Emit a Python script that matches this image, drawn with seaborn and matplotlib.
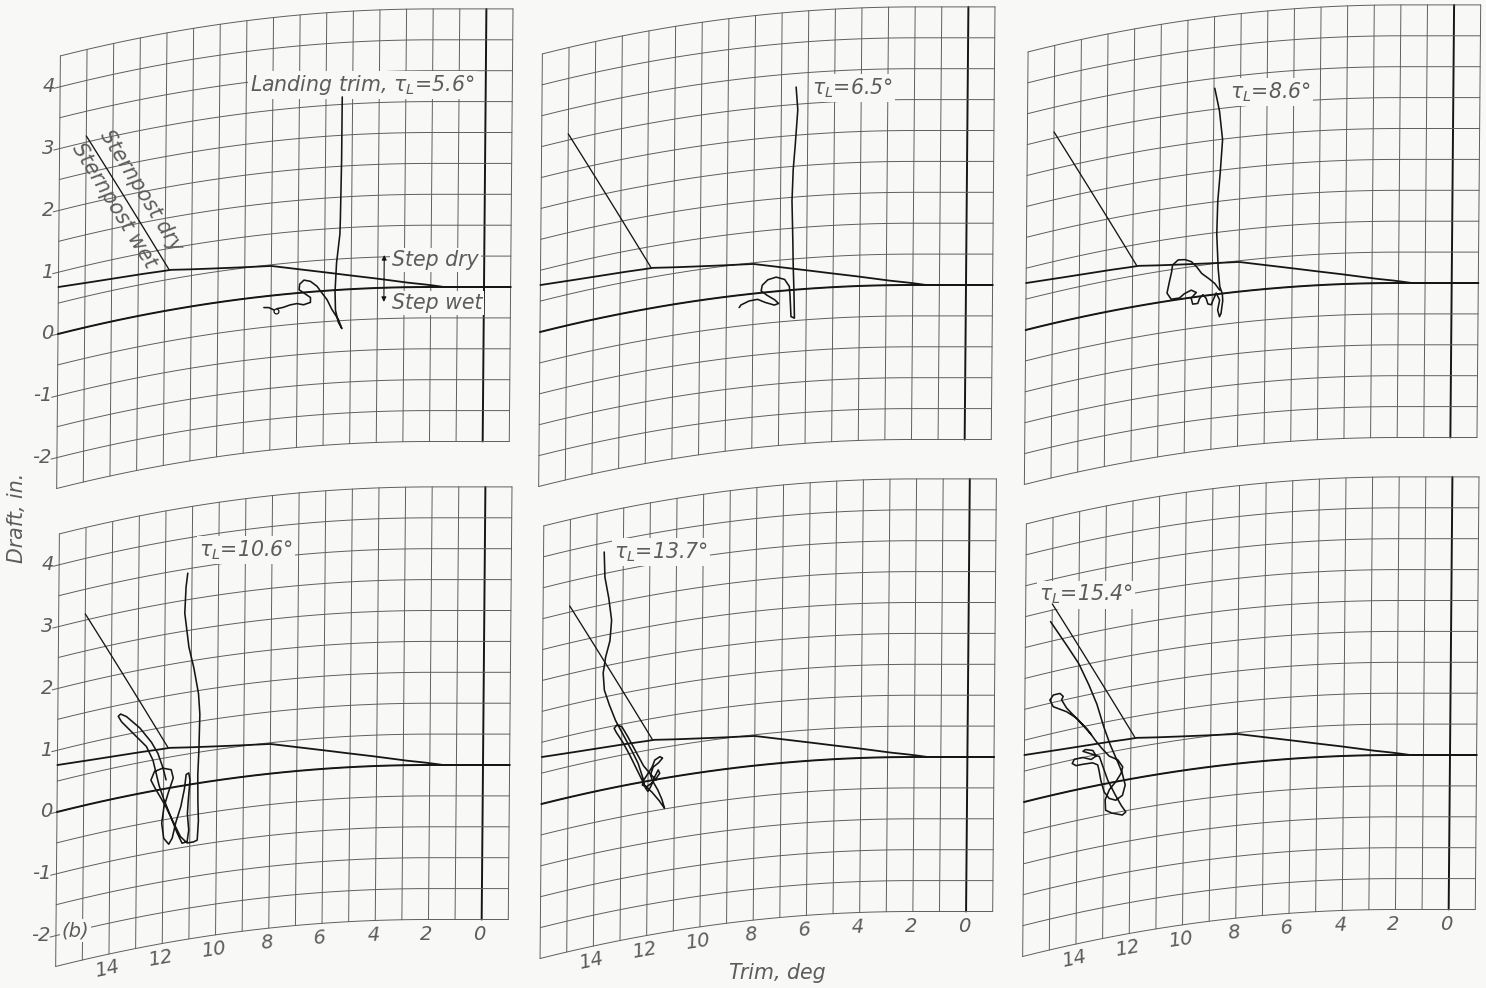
import numpy as np
import pandas as pd
import matplotlib
matplotlib.use("Agg")
import matplotlib.pyplot as plt
import matplotlib.transforms as mtransforms
from matplotlib.path import Path
import seaborn as sns

sns.set_theme(style="white")
plt.rcParams["font.family"] = ["DejaVu Sans"]
plt.rcParams["mathtext.fontset"] = "dejavusans"

# ------------------------------------------------------------------ data
# landing trim of each run, deg
landing_trim = [5.6, 6.5, 8.6, 10.6, 13.7, 15.4]

# step-dry / step-wet boundary (upper heavy line)
step_dry_trim = [16, 15, 14, 13, 12, 11.8, 11, 10, 9, 8, 7, 6, 5, 4, 3, 2, 1.5, -1]
step_dry_draft = [0.76, 0.72, 0.69, 0.67, 0.65, 0.65, 0.60, 0.55, 0.51, 0.48,
                  0.385, 0.30, 0.22, 0.15, 0.08, 0.03, 0.0, 0.0]
# step-wet boundary along zero draft (lower heavy line)
step_wet_trim = [16, -1]
step_wet_draft = [0.0, 0.0]
# sternpost dry / wet boundary
sternpost_trim = [15.0, 11.85]
sternpost_draft = [3.10, 0.66]

# trim-draft histories of the landings
trim_56 = [5.39, 5.39, 5.41, 5.43, 5.55, 5.60, 5.58, 5.47, 5.33, 5.45, 5.70, 5.89,
           6.08, 6.27, 6.52, 6.77, 6.93, 6.95, 6.77, 6.52, 6.52, 6.77, 7.02, 7.27,
           7.52, 7.77, 7.83, 8.08, 8.27]
draft_56 = [3.12, 2.26, 1.45, 0.92, 0.45, 0.00, -0.32, -0.52, -0.63, -0.49, -0.32,
            -0.15, -0.04, 0.08, 0.17, 0.20, 0.14, 0.05, -0.01, -0.09, -0.17, -0.20,
            -0.17, -0.18, -0.21, -0.22, -0.25, -0.19, -0.18]

trim_65 = [6.45, 6.38, 6.45, 6.53, 6.57, 6.53, 6.51, 6.47, 6.44, 6.57, 6.60, 6.64,
           6.82, 7.14, 7.45, 7.66, 7.70, 7.51, 7.20, 7.04, 7.20, 7.51, 7.83, 8.14,
           8.45, 8.52]
draft_65 = [3.28, 2.91, 2.42, 1.99, 1.46, 0.92, 0.48, 0.05, -0.46, -0.43, -0.16, 0.06,
            0.18, 0.23, 0.20, 0.12, 0.03, -0.04, -0.13, -0.20, -0.22, -0.17, -0.10,
            -0.11, -0.16, -0.20]

trim_86 = [8.97, 8.79, 8.66, 8.72, 8.82, 8.85, 8.79, 8.72, 8.62, 8.60, 8.66, 8.72,
           8.79, 8.72, 8.85, 8.97, 9.03, 9.16, 9.22, 9.35, 9.47, 9.54, 9.73, 9.79,
           9.60, 9.79, 10.04, 10.23, 10.54, 10.70, 10.63, 10.54, 10.50, 10.29, 10.04,
           9.79, 9.60, 9.41, 9.16, 8.91, 8.72]
draft_86 = [3.34, 2.98, 2.49, 2.06, 1.52, 0.99, 0.44, 0.12, 0.00, -0.11, -0.32, -0.37,
            -0.26, -0.10, 0.02, -0.09, -0.16, -0.14, -0.05, 0.02, -0.03, -0.11, -0.11,
            -0.01, 0.07, 0.12, 0.08, 0.02, 0.02, 0.13, 0.28, 0.44, 0.57, 0.64, 0.63,
            0.58, 0.49, 0.37, 0.28, 0.18, 0.06]

trim_106 = [11.16, 11.22, 11.26, 11.10, 10.91, 10.72, 10.66, 10.68, 10.72, 10.71,
            10.68, 10.72, 10.85, 11.10, 11.35, 11.60, 11.91, 12.29, 12.48, 12.35,
            12.04, 11.72, 11.64, 11.79, 11.98, 12.06, 11.98, 11.79, 11.66, 11.54,
            11.35, 11.22, 11.16, 11.06, 11.01, 11.06, 11.10, 11.04, 11.10, 11.29,
            11.47, 11.72, 11.98, 12.16, 12.29, 12.41, 12.66, 13.17, 13.60, 13.73,
            13.64, 13.42, 12.91, 12.48, 12.23, 12.04, 11.91]
draft_106 = [3.43, 3.22, 2.79, 2.24, 1.90, 1.46, 1.13, 0.59, 0.16, -0.27, -0.60, -0.92,
             -0.94, -0.94, -0.82, -0.59, -0.29, 0.01, 0.18, 0.31, 0.34, 0.29, 0.15,
             -0.03, -0.29, -0.55, -0.80, -0.91, -0.82, -0.59, -0.34, -0.07, 0.17, 0.19,
             0.07, -0.19, -0.46, -0.73, -0.92, -0.93, -0.76, -0.47, -0.18, 0.05, 0.28,
             0.50, 0.74, 1.00, 1.22, 1.32, 1.35, 1.29, 1.06, 0.80, 0.60, 0.36, 0.14]

trim_137 = [13.72, 13.69, 13.54, 13.42, 13.47, 13.63, 13.72, 13.67, 13.50, 13.25,
            12.94, 12.63, 12.38, 12.21, 12.13, 11.87, 11.59, 11.37, 11.46, 11.62,
            11.81, 11.91, 11.81, 11.62, 11.46, 11.56, 11.75, 11.84, 12.00, 12.16,
            12.21, 12.06, 11.87, 11.69, 11.56, 11.62, 11.75, 11.87, 12.00, 12.09,
            12.19, 12.38, 12.63, 12.94, 13.19, 13.29, 13.19, 13.00, 12.81, 12.50,
            12.19, 11.94, 11.69]
draft_137 = [3.85, 3.45, 3.11, 2.72, 2.40, 2.15, 1.89, 1.61, 1.38, 1.09, 0.82, 0.55,
             0.32, 0.09, -0.06, -0.18, -0.34, -0.49, -0.35, -0.18, -0.03, 0.09, 0.21,
             0.26, 0.33, 0.36, 0.32, 0.22, 0.12, 0.03, -0.05, -0.09, -0.05, 0.02, 0.09,
             0.15, 0.05, -0.08, -0.17, -0.11, 0.00, 0.18, 0.42, 0.69, 0.87, 0.96, 1.00,
             0.96, 0.81, 0.54, 0.27, 0.12, -0.01]

trim_154 = [15.06, 14.49, 13.99, 13.62, 13.30, 13.05, 12.80, 12.55, 12.33, 12.20,
            12.30, 12.55, 12.80, 12.99, 13.11, 13.18, 13.24, 13.43, 13.74, 14.05,
            14.20, 14.12, 13.80, 13.49, 13.30, 13.43, 13.70, 13.80, 13.18, 13.05,
            12.86, 12.61, 12.36, 12.17, 12.30, 12.68, 12.93, 12.95, 12.80, 12.55,
            12.36, 12.30, 12.49, 12.80, 13.05, 13.30, 13.62, 14.05, 14.43, 14.93,
            15.06, 14.93, 14.68, 14.56, 14.62, 14.43, 13.93, 13.49]
draft_154 = [2.82, 2.41, 2.04, 1.68, 1.33, 0.96, 0.64, 0.38, 0.14, -0.08, -0.24, -0.30,
             -0.25, -0.13, 0.05, 0.22, 0.33, 0.38, 0.39, 0.39, 0.44, 0.50, 0.50, 0.44,
             0.48, 0.58, 0.62, 0.60, 0.46, 0.29, 0.05, -0.18, -0.39, -0.52, -0.56,
             -0.50, -0.43, -0.26, -0.11, 0.00, 0.12, 0.22, 0.35, 0.43, 0.56, 0.71, 0.93,
             1.16, 1.30, 1.43, 1.55, 1.62, 1.62, 1.56, 1.51, 1.36, 1.09, 0.84]

run_trims = [trim_56, trim_65, trim_86, trim_106, trim_137, trim_154]
run_drafts = [draft_56, draft_65, draft_86, draft_106, draft_137, draft_154]

# end-of-run marker of the first landing
end_mark_trim = [7.83]
end_mark_draft = [-0.25]

trim_tick_labels = [14, 12, 10, 8, 6, 4, 2, 0]
draft_tick_labels = [4, 3, 2, 1, 0, -1, -2]

# ------------------------------------------------------------------ layout / style
FIG_W, FIG_H, DPI = 1486, 988, 100
PAPER = "#f8f8f6"
INK = "#161616"
GRID = "#5e5e5e"
TEXT = "#5c5c5c"

TRIM_MIN, TRIM_MAX = -1, 16
DRAFT_MIN, DRAFT_MAX = -2.5, 4.5
PX_PER_TRIM = 26.6
PX_PER_DRAFT = 61.8
X_LIM = (-17.6, 1.6)
Y_LIM = (-4.4, 5.2)

# pixel position (from the top-left of the sheet) of trim 0 / draft 0 in each panel
panel_origin_px = [(484, 287), (966, 285), (1451.7, 283),
                   (483, 765), (967.4, 757), (1450, 755)]
# anchor (trim, draft) of each landing-trim note
tau_note_pos = [(8.85, 3.45), (5.86, 3.25), (8.41, 3.25),
                (10.75, 3.78), (13.36, 3.82), (15.49, 3.30)]

TICK_FONT = dict(fontsize=14, fontstyle="oblique", fontweight="light", color=TEXT)
FONT = dict(fontsize=14.8, fontstyle="oblique", fontweight="light", color=TEXT)
NOTE_BOX = dict(boxstyle="square,pad=0.1", fc=PAPER, ec="none")


class CurvedDraftGrid(mtransforms.Transform):
    """Trim/draft chart paper: draft lines bow upward toward low trim."""
    input_dims = 2
    output_dims = 2
    is_separable = False
    has_inverse = False

    def __init__(self, bow, flat_trim, lean, steps=30):
        super().__init__()
        self.bow = bow
        self.flat_trim = flat_trim
        self.lean = lean
        self.steps = steps

    def transform_non_affine(self, values):
        v = np.asarray(values, dtype=float)
        shape = v.shape
        v = v.reshape(-1, 2)
        trim, draft = v[:, 0], v[:, 1]
        y = draft - self.bow * np.clip(trim - self.flat_trim, 0.0, None) ** 2
        x = -trim + self.lean * y
        return np.column_stack([x, y]).reshape(shape)

    def transform_path_non_affine(self, path):
        if len(path.vertices) > 1 and path.codes is None:
            path = path.interpolated(self.steps)
        return Path(self.transform_non_affine(path.vertices), path.codes)


warp = CurvedDraftGrid(bow=0.00388, flat_trim=2.0, lean=0.02)

fig = plt.figure(figsize=(FIG_W / DPI, FIG_H / DPI), dpi=DPI)
fig.patch.set_facecolor(PAPER)


def panel_axes(ox, oy):
    left = ox + X_LIM[0] * PX_PER_TRIM
    width = (X_LIM[1] - X_LIM[0]) * PX_PER_TRIM
    height = (Y_LIM[1] - Y_LIM[0]) * PX_PER_DRAFT
    bottom = FIG_H - (oy - Y_LIM[0] * PX_PER_DRAFT)
    ax = fig.add_axes([left / FIG_W, bottom / FIG_H, width / FIG_W, height / FIG_H])
    ax.set_xlim(*X_LIM)
    ax.set_ylim(*Y_LIM)
    ax.set_axis_off()
    ax.patch.set_alpha(0)
    return ax


def draw_paper(ax, tr):
    for t in np.arange(TRIM_MIN, TRIM_MAX + 1):
        heavy = t == 0
        ax.plot([t, t], [DRAFT_MIN, DRAFT_MAX], transform=tr,
                color=INK if heavy else GRID, lw=1.4 if heavy else 0.7, zorder=1)
    for d in np.arange(DRAFT_MIN, DRAFT_MAX + 0.01, 0.5):
        ax.plot([TRIM_MAX, TRIM_MIN], [d, d], transform=tr,
                color=GRID, lw=0.7, zorder=1)


def draft_axis(ax, tr):
    for d in draft_tick_labels:
        ax.plot([TRIM_MAX, TRIM_MAX + 0.22], [d, d], transform=tr, color=GRID, lw=0.7)
        ax.annotate(f"{d}", xy=(TRIM_MAX, d), xycoords=tr, xytext=(-5, 0),
                    textcoords="offset pixels", ha="right", va="center", **TICK_FONT)


def trim_axis(ax, tr):
    for t in trim_tick_labels:
        a = tr.transform((t + 0.1, DRAFT_MIN))
        b = tr.transform((t - 0.1, DRAFT_MIN))
        ang = np.degrees(np.arctan2(b[1] - a[1], b[0] - a[0]))
        ax.annotate(f"{t}", xy=(t, DRAFT_MIN), xycoords=tr, xytext=(-2, -15),
                    textcoords="offset pixels", ha="center", va="center",
                    rotation=ang, rotation_mode="anchor", **TICK_FONT)


def line(ax, tr, trim, draft, lw, zorder=4):
    df = pd.DataFrame({"trim": trim, "draft": draft})
    sns.lineplot(data=df, x="trim", y="draft", sort=False, estimator=None,
                 ax=ax, color=INK, lw=lw, transform=tr, legend=False, zorder=zorder)


for i, (ox, oy) in enumerate(panel_origin_px):
    ax = panel_axes(ox, oy)
    tr = warp + ax.transData
    draw_paper(ax, tr)

    line(ax, tr, step_wet_trim, step_wet_draft, 1.4, zorder=3)
    line(ax, tr, step_dry_trim, step_dry_draft, 1.3, zorder=3)
    line(ax, tr, sternpost_trim, sternpost_draft, 0.95, zorder=3)
    line(ax, tr, run_trims[i], run_drafts[i], 1.15)

    tau = landing_trim[i]
    label = (r"Landing trim, $\tau_L$" if i == 0 else r"$\tau_L$") + f"={tau}°"
    ax.annotate(label, xy=tau_note_pos[i], xycoords=tr, ha="left", va="center",
                bbox=NOTE_BOX, zorder=2, **FONT)

    if i in (0, 3):
        draft_axis(ax, tr)
    if i >= 3:
        trim_axis(ax, tr)

    if i == 0:
        ax.plot(end_mark_trim, end_mark_draft, transform=tr, marker="o", ms=3.5,
                mfc=PAPER, mec=INK, mew=0.9, ls="none", zorder=5)
        # sternpost annotation along the boundary
        p0 = tr.transform((sternpost_trim[0], sternpost_draft[0]))
        p1 = tr.transform((sternpost_trim[1], sternpost_draft[1]))
        ang = np.degrees(np.arctan2(p1[1] - p0[1], p1[0] - p0[0]))
        mid = (np.mean(sternpost_trim), np.mean(sternpost_draft))
        ax.annotate("Sternpost dry", xy=mid, xycoords=tr, xytext=(13, 11),
                    textcoords="offset pixels", rotation=ang, rotation_mode="anchor",
                    ha="center", va="center", **FONT)
        ax.annotate("Sternpost wet", xy=mid, xycoords=tr, xytext=(-13, -3),
                    textcoords="offset pixels", rotation=ang, rotation_mode="anchor",
                    ha="center", va="center", **FONT)
        # step dry / step wet arrows
        arrow = dict(arrowstyle="-|>", lw=0.8, color=INK, mutation_scale=7,
                     shrinkA=0, shrinkB=0)
        ax.annotate("", xy=(3.76, 0.53), xytext=(3.76, 0.15), xycoords=tr,
                    textcoords=tr, arrowprops=arrow)
        ax.annotate("", xy=(3.76, -0.23), xytext=(3.76, 0.15), xycoords=tr,
                    textcoords=tr, arrowprops=arrow)
        ax.annotate("Step dry", xy=(3.46, 0.445), xycoords=tr, ha="left", va="center",
                    bbox=NOTE_BOX, zorder=2, **FONT)
        ax.annotate("Step wet", xy=(3.46, -0.25), xycoords=tr, ha="left", va="center",
                    bbox=NOTE_BOX, zorder=2, **FONT)

    if i == 3:
        ax.annotate("(b)", xy=(15.26, -2.0), xycoords=tr, ha="center", va="center",
                    bbox=NOTE_BOX, zorder=2, **TICK_FONT)

    ax.set_xlim(*X_LIM)
    ax.set_ylim(*Y_LIM)

fig.text(17 / FIG_W, 1 - 518 / FIG_H, "Draft, in.", rotation=90, ha="center",
         va="center", **FONT)
fig.text(777 / FIG_W, 1 - 973 / FIG_H, "Trim, deg", ha="center", va="center", **FONT)

fig.savefig("out.png", dpi=DPI, facecolor=PAPER)
